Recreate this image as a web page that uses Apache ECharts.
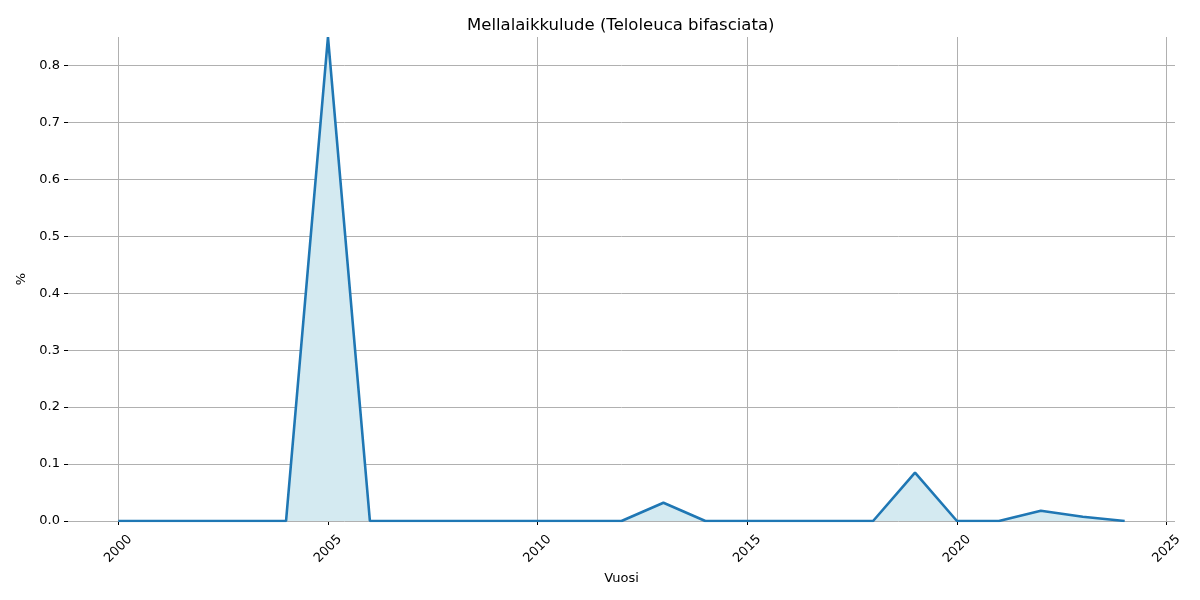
<!DOCTYPE html>
<html><head><meta charset="utf-8">
<script src="https://cdn.jsdelivr.net/npm/echarts@6/dist/echarts.min.js"></script>
<style>html,body{margin:0;padding:0;background:#fff}#c{width:1200px;height:600px}</style>
</head><body><div id="c"></div>
<script>
const years = [2000,2001,2002,2003,2004,2005,2006,2007,2008,2009,2010,2011,2012,2013,2014,2015,2016,2017,2018,2019,2020,2021,2022,2023,2024];
const values = [0,0,0,0,0,0.85,0,0,0,0,0,0,0,0.032,0,0,0,0,0,0.085,0,0,0.018,0.0075,0];
const xTicks = [2000,2005,2010,2015,2020,2025];
const yTicks = [0,0.1,0.2,0.3,0.4,0.5,0.6,0.7,0.8];
const titleText = 'Mellalaikkulude (Teloleuca bifasciata)';

const font = 'DejaVu Sans';
const chart = echarts.init(document.getElementById('c'), null, {renderer:'canvas'});
const gridLines = xTicks.map(v => ({xAxis: v})).concat(yTicks.map(v => ({yAxis: v})));
chart.setOption({
  animation: false,
  title: {text: titleText, left: 462, top: 12, textStyle: {fontFamily: font, fontSize: 16.5, fontWeight: 'normal', color: '#000'}},
  grid: {left: 68, right: 25, top: 37, bottom: 79},
  xAxis: {
    type: 'value', min: 1998.8, max: 2025.2,
    name: 'Vuosi', nameLocation: 'middle', nameGap: 50,
    nameTextStyle: {fontFamily: font, fontSize: 13, color: '#000'},
    axisLine: {show: false},
    axisTick: {show: true, customValues: xTicks, length: 4, lineStyle: {color: '#000'}},
    axisLabel: {customValues: xTicks, rotate: 45, align: 'center', verticalAlign: 'middle', fontFamily: font, fontSize: 13, color: '#000', margin: 28, formatter: v => String(v)},
    splitLine: {show: false}
  },
  yAxis: {
    type: 'value', min: 0, max: 0.85,
    name: '%', nameLocation: 'middle', nameGap: 40, nameRotate: 90,
    nameTextStyle: {fontFamily: font, fontSize: 13, color: '#000'},
    axisLine: {show: false},
    axisTick: {show: true, customValues: yTicks, length: 4, lineStyle: {color: '#000'}},
    axisLabel: {customValues: yTicks, fontFamily: font, fontSize: 13, color: '#000', margin: 8, formatter: v => v.toFixed(1)},
    splitLine: {show: false}
  },
  series: [{
    type: 'line',
    data: years.map((y, i) => [y, values[i]]),
    showSymbol: false,
    lineStyle: {color: '#1f77b4', width: 2.6},
    itemStyle: {color: '#1f77b4'},
    areaStyle: {color: '#d4eaf1', opacity: 1, origin: 'start'},
    z: 3,
    markLine: {
      silent: true, symbol: 'none', label: {show: false},
      lineStyle: {color: '#b0b0b0', width: 1, type: 'solid'},
      data: gridLines, z: 1
    }
  }]
});
</script></body></html>
